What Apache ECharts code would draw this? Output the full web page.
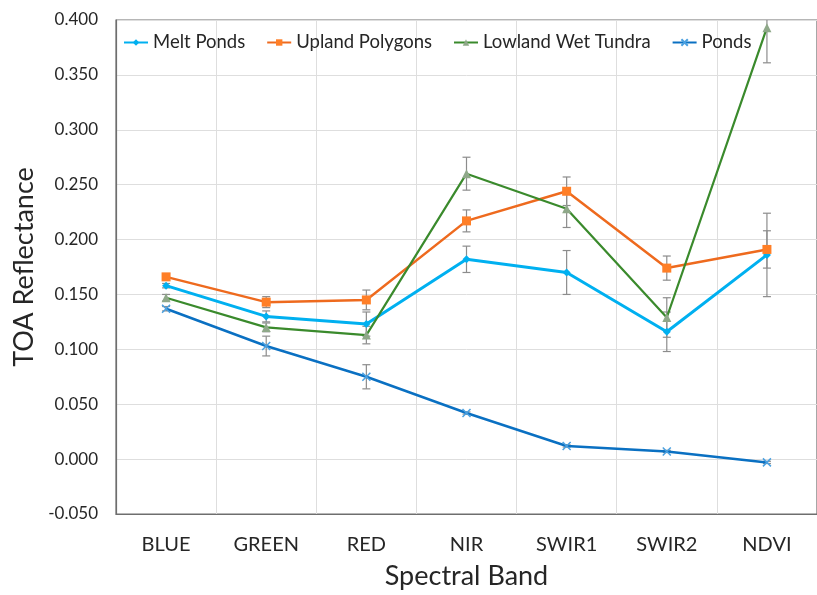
<!DOCTYPE html>
<html>
<head>
<meta charset="utf-8">
<script src="https://cdn.jsdelivr.net/npm/echarts@6/dist/echarts.min.js"></script>
<style>
  html, body { margin: 0; padding: 0; background: #fff; }
  #chart { width: 817px; height: 595px; }
</style>
</head>
<body>
<div id="chart"></div>
<script>
// Spectral bands on the x axis
const bands = ['BLUE', 'GREEN', 'RED', 'NIR', 'SWIR1', 'SWIR2', 'NDVI'];

// Mean TOA reflectance per land-cover class, with +/- error
const meltPonds    = [0.158, 0.130, 0.123, 0.182, 0.170, 0.116, 0.186];
const meltPondsErr = [0.002, 0.005, 0.011, 0.012, 0.020, 0.018, 0.038];

const upland       = [0.166, 0.143, 0.145, 0.217, 0.244, 0.174, 0.191];
const uplandErr    = [0.003, 0.005, 0.009, 0.010, 0.013, 0.011, 0.017];

const lowland      = [0.147, 0.120, 0.113, 0.260, 0.228, 0.129, 0.393];
const lowlandErr   = [0.003, 0.004, 0.008, 0.015, 0.017, 0.018, 0.032];

const ponds        = [0.137, 0.103, 0.075, 0.042, 0.012, 0.007, -0.003];
const pondsErr     = [0.002, 0.009, 0.011, 0.001, 0.001, 0.001, 0.001];

// y axis range and step
const yMin = -0.05, yMax = 0.40, yStep = 0.05;

const FONT = 'Lato';
const ERR_COLOR = '#8c8c8c';

function errData(vals, errs) {
  return vals.map((v, i) => [i, v - errs[i], v + errs[i]]);
}

function renderErr(params, api) {
  const x = api.value(0);
  const lo = api.coord([x, api.value(1)]);
  const hi = api.coord([x, api.value(2)]);
  const cap = 4;
  const style = { stroke: ERR_COLOR, lineWidth: 1.2 };
  return {
    type: 'group',
    children: [
      { type: 'line', shape: { x1: lo[0], y1: lo[1], x2: hi[0], y2: hi[1] }, style },
      { type: 'line', shape: { x1: hi[0] - cap, y1: hi[1], x2: hi[0] + cap, y2: hi[1] }, style },
      { type: 'line', shape: { x1: lo[0] - cap, y1: lo[1], x2: lo[0] + cap, y2: lo[1] }, style }
    ]
  };
}

function errSeries(vals, errs) {
  return {
    type: 'custom',
    renderItem: renderErr,
    data: errData(vals, errs),
    encode: { x: 0, y: [1, 2] },
    clip: true,
    silent: true,
    z: 1
  };
}

const chart = echarts.init(document.getElementById('chart'), null, { renderer: 'canvas' });

chart.setOption({
  animation: false,
  backgroundColor: '#ffffff',
  textStyle: { fontFamily: FONT },
  grid: {
    left: 116, top: 20, width: 708, height: 497,
    show: true, borderColor: '#6e6e6e', borderWidth: 1.2
  },
  legend: {
    left: 118, top: 28,
    itemWidth: 24, itemHeight: 8, itemGap: 21,
    textStyle: { fontFamily: FONT, fontSize: 18.5, color: '#262626' },
    data: ['Melt Ponds', 'Upland Polygons', 'Lowland Wet Tundra', 'Ponds']
  },
  xAxis: {
    type: 'category',
    data: bands,
    boundaryGap: true,
    name: 'Spectral Band',
    nameLocation: 'middle',
    nameGap: 49,
    nameTextStyle: { fontFamily: FONT, fontSize: 27, color: '#262626' },
    axisLine: { show: true, onZero: false, lineStyle: { color: '#6e6e6e', width: 1.2 } },
    axisTick: { show: false },
    axisLabel: { margin: 21, fontFamily: FONT, fontSize: 20, color: '#262626' },
    splitLine: { show: true, lineStyle: { color: '#dedede', width: 1 } }
  },
  yAxis: {
    type: 'value',
    min: yMin, max: yMax, interval: yStep,
    name: 'TOA Reflectance',
    nameLocation: 'middle',
    nameGap: 72,
    nameTextStyle: { fontFamily: FONT, fontSize: 27, color: '#262626' },
    axisLine: { show: true, lineStyle: { color: '#6e6e6e', width: 1.2 } },
    axisTick: { show: false },
    axisLabel: {
      margin: 18, fontFamily: FONT, fontSize: 17, color: '#262626',
      formatter: v => v.toFixed(3)
    },
    splitLine: { show: true, lineStyle: { color: '#dedede', width: 1 } }
  },
  series: [
    errSeries(meltPonds, meltPondsErr),
    errSeries(upland, uplandErr),
    errSeries(lowland, lowlandErr),
    errSeries(ponds, pondsErr),
    {
      name: 'Melt Ponds', type: 'line', data: meltPonds, z: 3,
      symbol: 'diamond', symbolSize: 8,
      lineStyle: { color: '#00b0f0', width: 3 },
      itemStyle: { color: '#00b0f0' }
    },
    {
      name: 'Upland Polygons', type: 'line', data: upland, z: 3,
      symbol: 'rect', symbolSize: 9,
      lineStyle: { color: '#ee6a1e', width: 2.5 },
      itemStyle: { color: '#ff7f27' }
    },
    {
      name: 'Lowland Wet Tundra', type: 'line', data: lowland, z: 3,
      symbol: 'triangle', symbolSize: 9,
      lineStyle: { color: '#3a8a2c', width: 2.2 },
      itemStyle: { color: '#8fa889' }
    },
    {
      name: 'Ponds', type: 'line', data: ponds, z: 3,
      symbol: 'path://M0,0L10,10M10,0L0,10', symbolSize: 8,
      lineStyle: { color: '#0a70c2', width: 2.5 },
      itemStyle: { color: 'rgba(0,0,0,0)', borderColor: '#4aa0e0', borderWidth: 1.5 }
    }
  ]
});
</script>
</body>
</html>
